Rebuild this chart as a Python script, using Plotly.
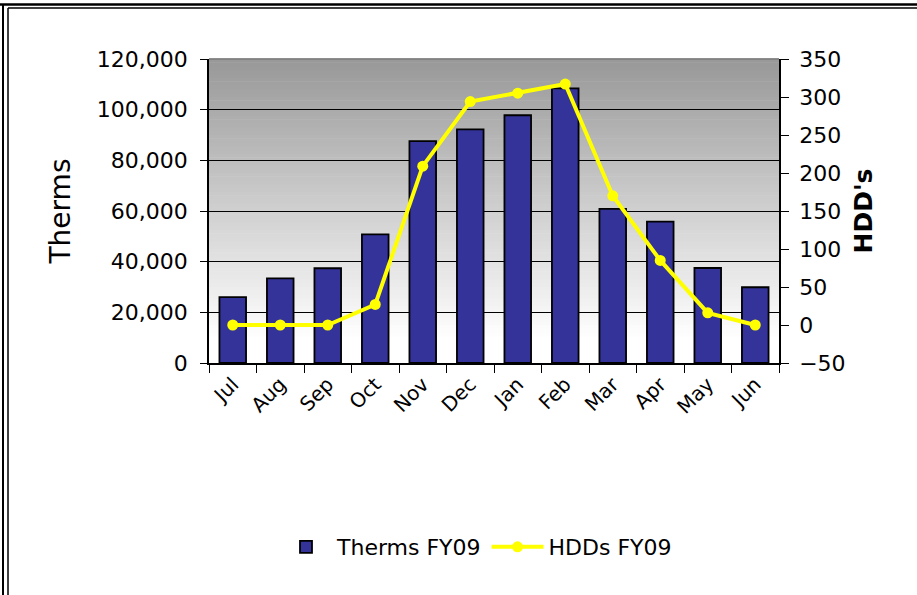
import plotly.graph_objects as go

months = ["Jul", "Aug", "Sep", "Oct", "Nov", "Dec", "Jan", "Feb", "Mar", "Apr", "May", "Jun"]
therms_fy09 = [26000, 33400, 37400, 50800, 87600, 92200, 97800, 108400, 60800, 55800, 37500, 29900]
hdds_fy09 = [0, 0, 0, 27, 209, 294, 305, 317, 170, 85, 16, 0]

FONT = "DejaVu Sans"

fig = go.Figure()
fig.add_trace(go.Bar(
    x=months, y=therms_fy09, name="Therms FY09",
    marker=dict(color="#333399", line=dict(color="#000000", width=1.8)),
    yaxis="y",
))
fig.add_trace(go.Scatter(
    x=months, y=hdds_fy09, name="HDDs FY09", mode="lines+markers",
    line=dict(color="#FFFF00", width=4),
    marker=dict(color="#FFFF00", size=11),
    yaxis="y2",
))

# gradient background of plot area
shapes = []
n = 80
for i in range(n):
    y0 = i / n
    y1 = (i + 1) / n
    t = (i + 0.5) / n  # 0 bottom -> 1 top
    f = min(1.0, max(0.0, (t - 0.08) / 0.92))
    g = int(round(255 - (255 - 152) * f))
    shapes.append(dict(type="rect", xref="x domain", yref="y domain",
                       x0=0, x1=1, y0=y0, y1=y1 + 0.002, layer="below",
                       fillcolor=f"rgb({g},{g},{g})", line=dict(width=0)))
# top edge of plot area
shapes.append(dict(type="line", xref="x domain", yref="y domain", x0=0, x1=1, y0=1, y1=1,
                   line=dict(color="#7a7a7a", width=1.5)))
# outer frame
W, H, L, T, PW, PH = 917, 595, 209, 59, 570, 304
def px(x):
    return (x - L) / PW
def py(y):
    return (T + PH - y) / PH
shapes.append(dict(type="line", xref="paper", yref="paper", x0=px(0), x1=px(W),
                   y0=py(4.5), y1=py(4.5), line=dict(color="#000", width=2.5)))
shapes.append(dict(type="line", xref="paper", yref="paper", x0=px(8), x1=px(W),
                   y0=py(8), y1=py(8), line=dict(color="#000", width=1.5)))
shapes.append(dict(type="line", xref="paper", yref="paper", x0=px(3), x1=px(3),
                   y0=py(H), y1=py(4), line=dict(color="#000", width=2)))
shapes.append(dict(type="line", xref="paper", yref="paper", x0=px(8), x1=px(8),
                   y0=py(H), y1=py(8), line=dict(color="#000", width=1.5)))

fig.update_layout(
    width=W, height=H,
    margin=dict(l=L, r=W - L - PW, t=T, b=H - T - PH),
    paper_bgcolor="white", plot_bgcolor="white",
    font=dict(family=FONT, color="#000", size=20),
    bargap=0.44,
    showlegend=True,
    legend=dict(orientation="h", x=px(476), xanchor="center", y=py(547), yanchor="middle",
                font=dict(family=FONT, size=22), bgcolor="rgba(0,0,0,0)",
                itemwidth=52),
    shapes=shapes,
    xaxis=dict(
        type="category", range=[-0.5, 11.5], showgrid=False,
        showline=True, linecolor="#000", linewidth=1.5,
        ticks="outside", ticklen=8, tickcolor="#000", tickson="boundaries",
        tickangle=-45, tickfont=dict(size=20, family=FONT),
    ),
    yaxis=dict(
        range=[0, 120000], dtick=20000, tickformat=",d",
        showgrid=True, gridcolor="#000", gridwidth=1.2,
        showline=True, linecolor="#000", linewidth=1.5,
        ticks="outside", ticklen=7, tickcolor="#000", ticklabelstandoff=8,
        tickfont=dict(size=22, family=FONT), zeroline=False,
        title=dict(text="Therms", font=dict(size=28, family=FONT), standoff=18),
    ),
    yaxis2=dict(
        range=[-50, 350], dtick=50, overlaying="y", side="right",
        showgrid=False, zeroline=False,
        showline=True, linecolor="#000", linewidth=1.5,
        ticks="outside", ticklen=8, tickcolor="#000", ticklabelstandoff=6,
        tickfont=dict(size=22, family=FONT),
        title=dict(text="<b>HDD's</b>", font=dict(size=25, family=FONT), standoff=10),
    ),
)

fig.write_html("out.html", config={"displayModeBar": False},
               post_script="document.body.style.margin='0px';")
